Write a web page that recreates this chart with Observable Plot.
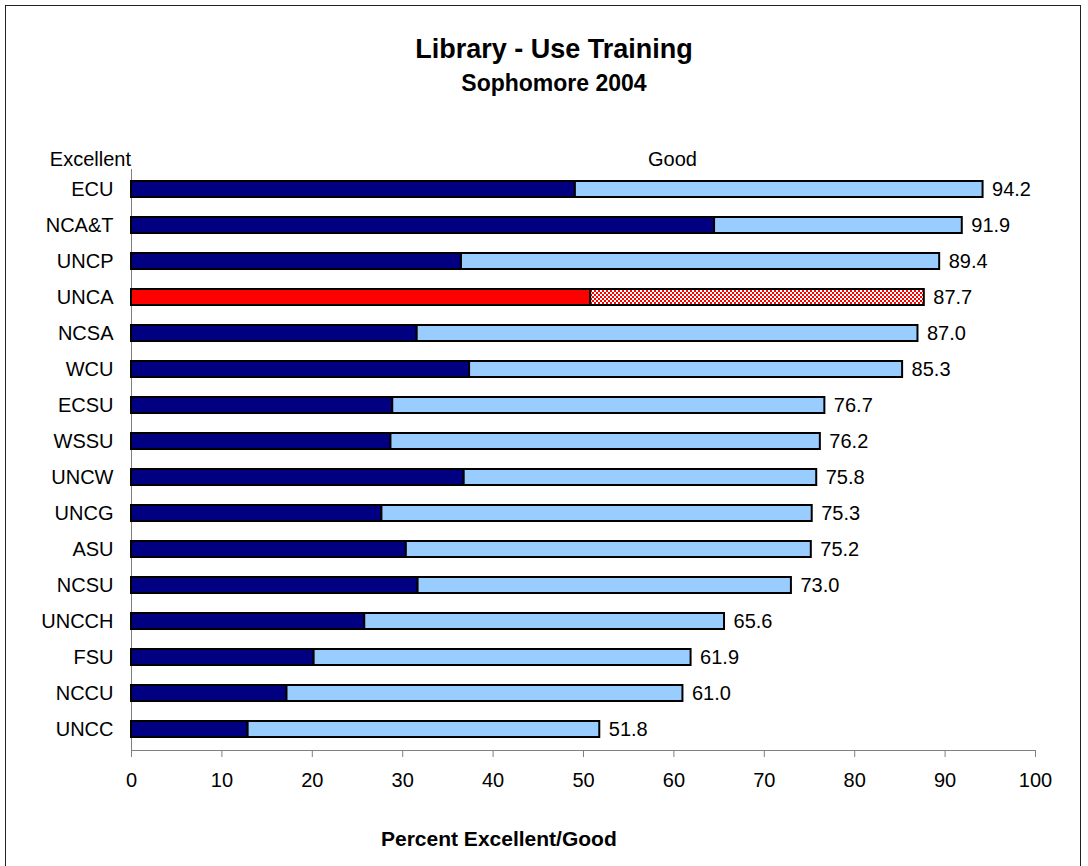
<!DOCTYPE html>
<html>
<head>
<meta charset="utf-8">
<script src="https://cdn.jsdelivr.net/npm/d3@7"></script>
<script src="https://cdn.jsdelivr.net/npm/@observablehq/plot@0.6"></script>
<style>
  html, body { margin: 0; padding: 0; background: #fff; }
  body { position: relative; width: 1088px; height: 866px; overflow: hidden; font-family: "Liberation Sans", Arial, sans-serif; color: #000; }
  .frame { position: absolute; left: 5px; top: 5px; width: 1076px; height: 900px; border: 1px solid #222; box-sizing: border-box; }
  .t { position: absolute; line-height: 1; white-space: nowrap; }
  #chart { position: absolute; left: 0; top: 140px; }
</style>
</head>
<body>
<div class="frame"></div>
<div class="t" id="title" style="font-size:27px;font-weight:bold;left:0;width:1108px;text-align:center;top:36px;">Library - Use Training</div>
<div class="t" id="subtitle" style="font-size:23px;font-weight:bold;left:0;width:1108px;text-align:center;top:72px;">Sophomore 2004</div>
<div class="t" style="font-size:20px;right:957px;top:149px;">Excellent</div>
<div class="t" style="font-size:20px;left:648px;top:149px;">Good</div>
<div class="t" style="font-size:21px;font-weight:bold;left:381px;top:828px;">Percent Excellent/Good</div>
<div id="chart"></div>
<script>
const schools = ["ECU","NCA&T","UNCP","UNCA","NCSA","WCU","ECSU","WSSU","UNCW","UNCG","ASU","NCSU","UNCCH","FSU","NCCU","UNCC"];
const excellent = [49.1,64.5,36.5,50.8,31.6,37.4,28.9,28.7,36.8,27.7,30.4,31.7,25.8,20.2,17.2,12.9];
const total = [94.2,91.9,89.4,87.7,87.0,85.3,76.7,76.2,75.8,75.3,75.2,73.0,65.6,61.9,61.0,51.8];
const xTicks = [0,10,20,30,40,50,60,70,80,90,100];
const highlight = "UNCA";

const navy = "#000080", light = "#99CCFF", red = "#FF0000", checker = "url(#checker)";

const segs = [];
schools.forEach((s, i) => {
  const hl = s === highlight;
  segs.push({school: s, x1: 0, x2: excellent[i], fill: hl ? red : navy});
  segs.push({school: s, x1: excellent[i], x2: total[i], fill: hl ? checker : light});
});
const labels = schools.map((s, i) => ({school: s, total: total[i]}));

const xAxisLine = (index, scales, values, dims) => {
  const y = dims.height - dims.marginBottom;
  const g = d3.create("svg:line")
    .attr("x1", scales.x(0)).attr("x2", scales.x(100))
    .attr("y1", y + 0.5).attr("y2", y + 0.5)
    .attr("stroke", "#808080").attr("stroke-width", 1);
  return g.node();
};

const plot = Plot.plot({
  width: 1088,
  height: 720,
  marginLeft: 131,
  marginRight: 53,
  marginTop: 29,
  marginBottom: 110,
  style: {fontFamily: '"Liberation Sans", Arial, sans-serif', fontSize: "20px", color: "#000", background: "transparent"},
  x: {domain: [0, 100], label: null},
  y: {domain: schools, paddingInner: 0.55, paddingOuter: 0.275, label: null},
  color: {type: "identity"},
  marks: [
    Plot.ruleX([0], {stroke: "#808080", strokeWidth: 1}),
    xAxisLine,
    Plot.axisX({ticks: xTicks, tickSize: 7, tickPadding: 15, stroke: "#808080", fill: "#000", fontSize: 20, label: null, tickFormat: d => String(d)}),
    Plot.axisY({tickSize: 0, tickPadding: 18, fontSize: 20, fill: "#000", label: null}),
    Plot.barX(segs, {y: "school", x1: "x1", x2: "x2", fill: "fill", stroke: "#000", strokeWidth: 2}),
    Plot.text(labels, {y: "school", x: "total", text: d => d.total.toFixed(1), dx: 9, textAnchor: "start", fontSize: 20, fill: "#000"})
  ]
});

const ns = "http://www.w3.org/2000/svg";
const defs = document.createElementNS(ns, "defs");
defs.innerHTML = '<pattern id="checker" width="4" height="4" patternUnits="userSpaceOnUse">' +
  '<rect width="4" height="4" fill="#fff"/><rect width="2" height="2" fill="#f00"/>' +
  '<rect x="2" y="2" width="2" height="2" fill="#f00"/></pattern>';
plot.insertBefore(defs, plot.firstChild);
document.getElementById("chart").appendChild(plot);
</script>
</body>
</html>
